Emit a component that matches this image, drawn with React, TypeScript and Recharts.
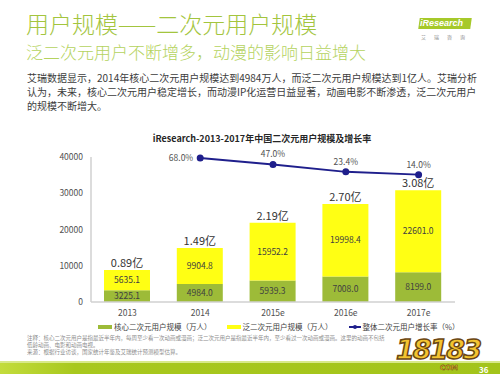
import React from 'react';
import { ComposedChart, Bar, Line, XAxis, YAxis, LabelList } from 'recharts';

const years = ['2013', '2014', '2015e', '2016e', '2017e'];
const coreUsers = [3225.1, 4984.0, 5939.3, 7008.0, 8199.0];
const panUsers = [5635.1, 9904.8, 15952.2, 19998.4, 22601.0];
const totalLabels = ['0.89亿', '1.49亿', '2.19亿', '2.70亿', '3.08亿'];
const growthRates: (number | null)[] = [null, 68.0, 47.0, 23.4, 14.0];
const yTicks = [0, 10000, 20000, 30000, 40000];

const data = years.map((y, i) => ({
  year: y,
  core: coreUsers[i],
  pan: panUsers[i],
  total: totalLabels[i],
  rate: growthRates[i],
}));

const FONT = '"Noto Sans CJK SC", "Noto Sans", sans-serif';
const CORE = '#9dbb38';
const PAN = '#ffff14';
const LINE = '#1f1f8c';

const RateLabel = (props: any) => {
  const { x, y, value, index } = props;
  if (value === null || value === undefined) return null;
  const txt = Number(value).toFixed(1) + '%';
  if (index === 1) {
    return (
      <text x={x - 7} y={y + 3} textAnchor="end" fontSize={8.5} fill="#505050" fontFamily={FONT}>
        {txt}
      </text>
    );
  }
  return (
    <text x={x} y={y - 7} textAnchor="middle" fontSize={8.5} fill="#505050" fontFamily={FONT}>
      {txt}
    </text>
  );
};

const abs = (s: React.CSSProperties): React.CSSProperties => ({ position: 'absolute', margin: 0, ...s });

export default function App() {
  return (
    <div style={abs({ left: 0, top: 0, width: 500, height: 374, background: '#ffffff', overflow: 'hidden', fontFamily: FONT })}>
      <div style={abs({ left: 26, top: 10, fontSize: 23, fontWeight: 300, color: '#a3c53e', lineHeight: '26px', whiteSpace: 'nowrap' })}>
        用户规模——二次元用户规模
      </div>
      <div style={abs({ left: 26, top: 42, fontSize: 17, fontWeight: 300, color: '#b5d35e', lineHeight: '20px', whiteSpace: 'nowrap' })}>
        泛二次元用户不断增多，动漫的影响日益增大
      </div>
      <div style={abs({ left: 27, top: 71, width: 452, fontSize: 10, color: '#3c3c3c', lineHeight: '14px' })}>
        艾瑞数据显示，2014年核心二次元用户规模达到4984万人，而泛二次元用户规模达到1亿人。艾瑞分析认为，未来，核心二次元用户稳定增长，而动漫IP化运营日益显著，动画电影不断渗透，泛二次元用户的规模不断增大。
      </div>

      <div style={abs({ left: 419, top: 18, width: 52, height: 11, background: '#a6c92a', transform: 'skewX(-8deg)' })} />
      <div style={abs({ left: 420, top: 17, fontSize: 9, color: '#ffffff', fontStyle: 'italic', fontWeight: 700, lineHeight: '12px', fontFamily: '"Liberation Sans", sans-serif' })}>
        iResearch
      </div>
      <div style={abs({ left: 421, top: 33, fontSize: 5, color: '#8a8a8a', letterSpacing: 8, lineHeight: '7px', whiteSpace: 'nowrap' })}>
        艾瑞咨询
      </div>

      <div style={abs({ left: 0, top: 133, width: 524, textAlign: 'center', fontSize: 9, fontWeight: 700, color: '#262626', lineHeight: '12px', whiteSpace: 'nowrap' })}>
        iResearch-2013-2017年中国二次元用户规模及增长率
      </div>

      <div style={abs({ left: 0, top: 0 })}>
        <ComposedChart width={500} height={374} data={data} margin={{ top: 157, right: 45, bottom: 42, left: 51 }}>
          <XAxis
            dataKey="year"
            tickLine={false}
            axisLine={{ stroke: '#d0d0d0', strokeWidth: 1.5 }}
            tick={{ fontSize: 8.5, fill: '#505050', fontFamily: FONT }}
            height={30}
          />
          <YAxis
            yAxisId="left"
            domain={[0, 40000]}
            ticks={yTicks}
            tickLine={false}
            axisLine={{ stroke: '#d0d0d0', strokeWidth: 1.5 }}
            tick={{ fontSize: 8.5, fill: '#505050', fontFamily: FONT }}
            width={40}
            interval={0}
          />
          <YAxis yAxisId="right" orientation="right" hide domain={[-398, 71.2]} />
          <Bar yAxisId="left" dataKey="core" stackId="a" fill={CORE} barSize={46} isAnimationActive={false}>
            <LabelList dataKey="core" position="center" formatter={(v: any) => Number(v).toFixed(1)} style={{ fontSize: 8.5, fill: '#404040', fontFamily: FONT }} />
          </Bar>
          <Bar yAxisId="left" dataKey="pan" stackId="a" fill={PAN} barSize={46} isAnimationActive={false}>
            <LabelList dataKey="pan" position="center" formatter={(v: any) => Number(v).toFixed(1)} style={{ fontSize: 8.5, fill: '#404040', fontFamily: FONT }} />
            <LabelList dataKey="total" position="top" offset={3} style={{ fontSize: 11, fill: '#333333', fontFamily: FONT }} />
          </Bar>
          <Line
            yAxisId="right"
            dataKey="rate"
            stroke={LINE}
            strokeWidth={1.8}
            dot={{ r: 2.6, fill: LINE, stroke: LINE }}
            isAnimationActive={false}
          >
            <LabelList dataKey="rate" content={RateLabel} />
          </Line>
        </ComposedChart>
      </div>

      <div style={abs({ left: 98, top: 322, display: 'flex', alignItems: 'center', fontSize: 7.5, color: '#404040', whiteSpace: 'nowrap', lineHeight: '10px' })}>
        <span style={{ display: 'inline-block', width: 14, height: 4, background: CORE, marginRight: 2 }} />
        <span>核心二次元用户规模（万人）</span>
        <span style={{ display: 'inline-block', width: 14, height: 4, background: PAN, marginLeft: 15, marginRight: 2 }} />
        <span>泛二次元用户规模（万人）</span>
        <span style={{ position: 'relative', display: 'inline-block', width: 12, height: 6, marginLeft: 16, marginRight: 2 }}>
          <span style={{ position: 'absolute', left: 0, top: 2, width: 12, height: 1.6, background: LINE }} />
          <span style={{ position: 'absolute', left: 4, top: 1, width: 4, height: 4, borderRadius: 2, background: LINE }} />
        </span>
        <span>整体二次元用户增长率（%）</span>
      </div>

      <div style={abs({ left: 27, top: 335, width: 362, fontSize: 5.5, color: '#8c8c8c', lineHeight: '7px' })}>
        注释：核心二次元用户是指最近半年内，每周至少看一次动画或漫画；泛二次元用户是指最近半年内，至少看过一次动画或漫画。这里的动画不包括低龄动画、电影和动画电视。
        <br />
        来源：根据行业访谈，国家统计年鉴及艾瑞统计预测模型估算。
      </div>

      <div style={abs({ left: 0, top: 362, width: 500, height: 12, background: 'linear-gradient(90deg, #c3dc3c 0%, #a8c81e 15%, #a3c41a 100%)' })} />
      <div style={abs({ left: 0, top: 361, width: 500, height: 2, background: '#d8e98a' })} />
      <div style={abs({ left: 479, top: 365, fontSize: 8, fontWeight: 700, color: '#ffffff', lineHeight: '9px' })}>36</div>

      <div style={abs({ left: 396, top: 336, fontSize: 27, fontWeight: 900, color: '#f4c430', lineHeight: '27px', fontFamily: '"DejaVu Sans", sans-serif', WebkitTextStroke: '1.5px #6b4614', letterSpacing: -2, fontStyle: 'italic' })}>
        18183
      </div>
      <div style={abs({ left: 440, top: 364, fontSize: 7, fontWeight: 700, color: '#f4c430', lineHeight: '8px', fontFamily: '"DejaVu Sans", sans-serif', WebkitTextStroke: '0.5px #6b4614' })}>
        COM
      </div>
    </div>
  );
}
